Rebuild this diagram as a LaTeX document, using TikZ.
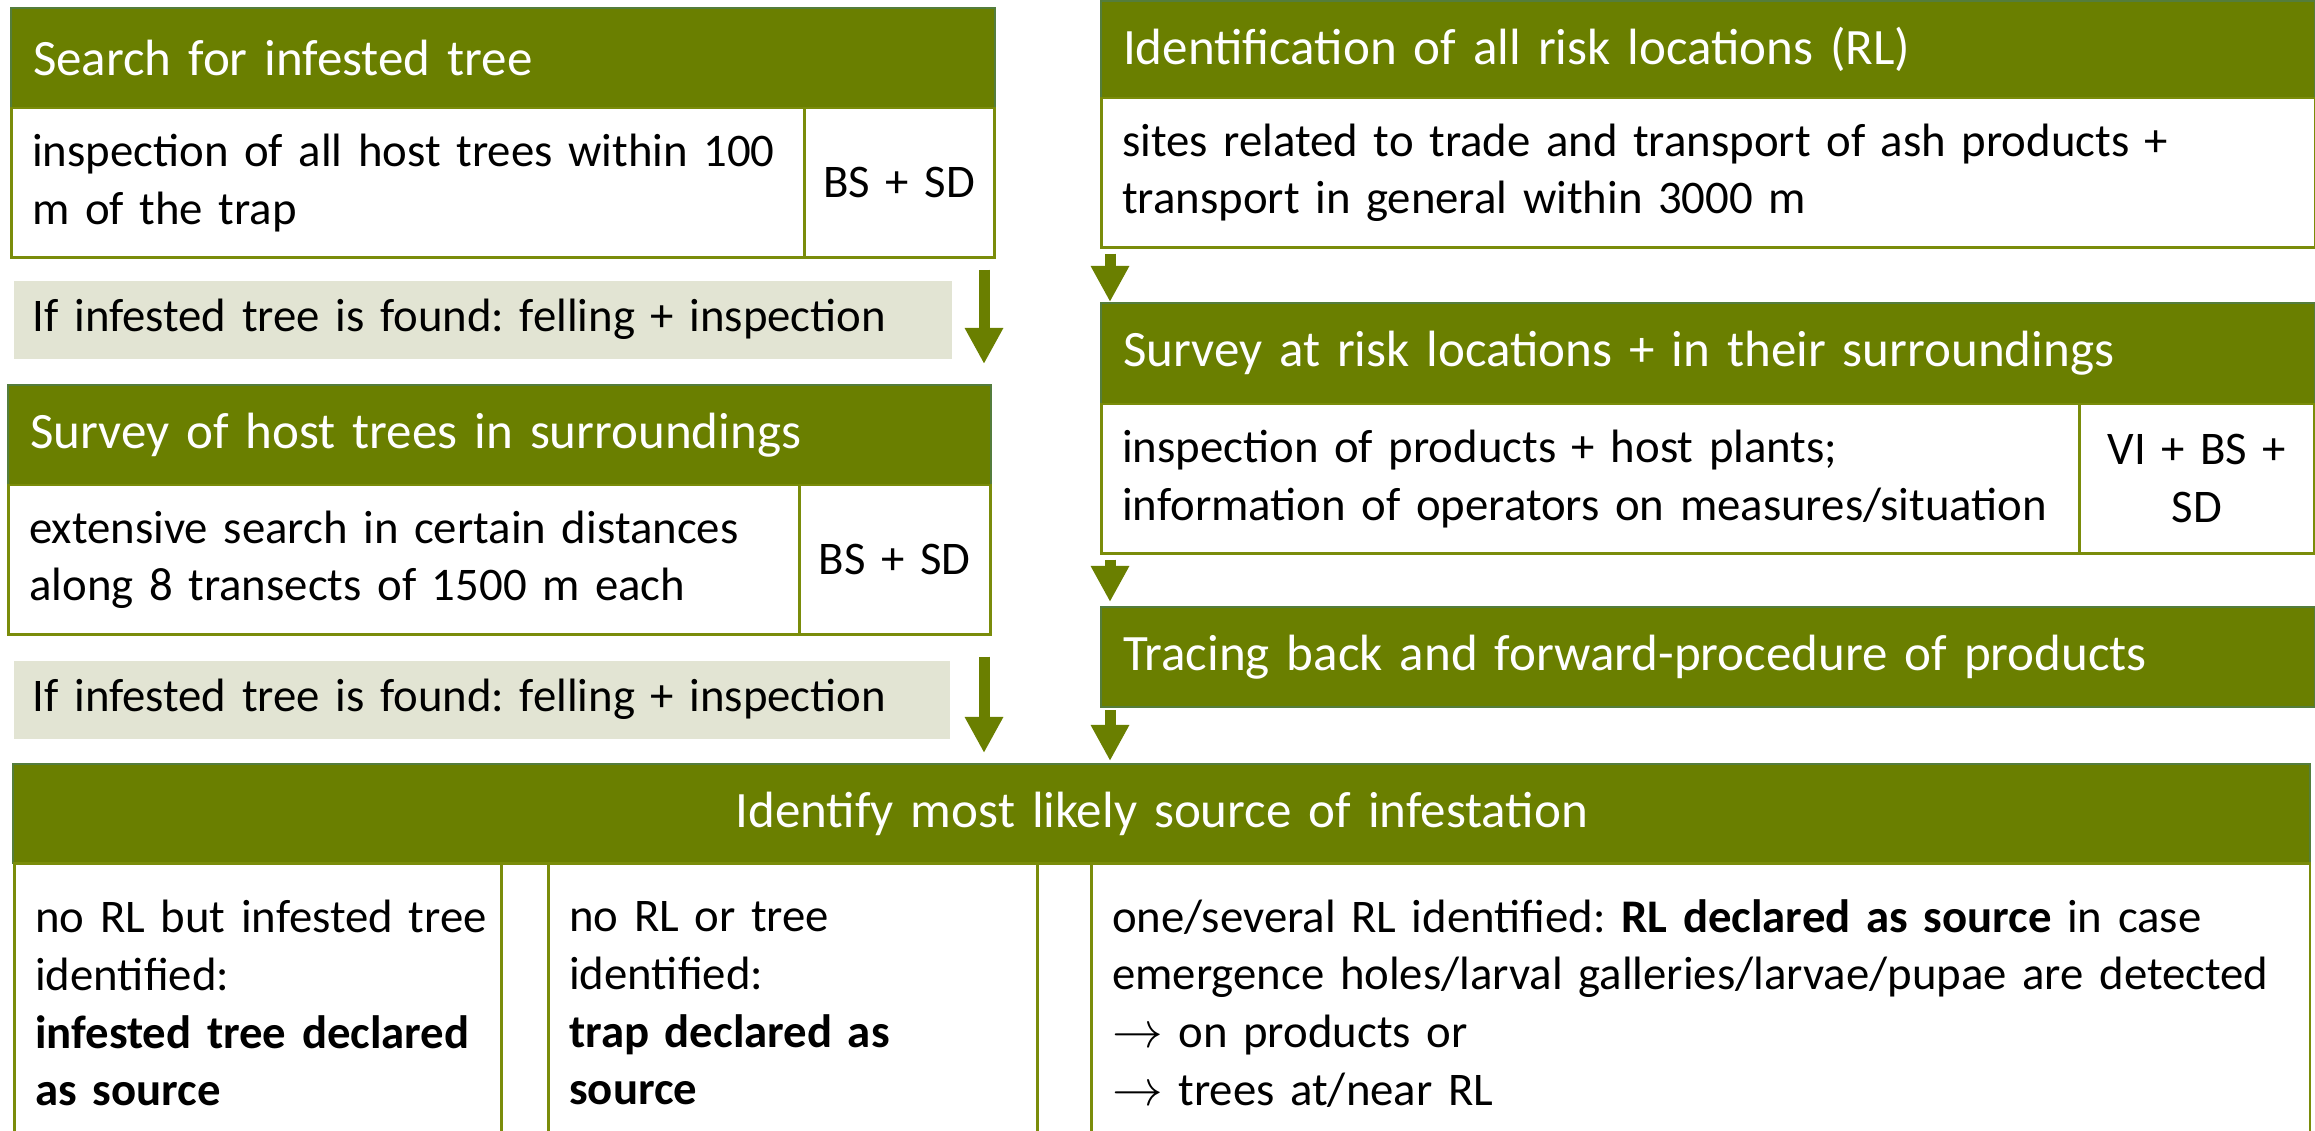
\documentclass[tikz,border=0pt]{standalone}
\usepackage{fontspec}
\setmainfont{Carlito}
\usetikzlibrary{arrows.meta}
\definecolor{leaf}{RGB}{106,127,0}
\definecolor{leafline}{RGB}{84,125,60}
\definecolor{cellline}{RGB}{122,140,10}
\definecolor{notefill}{RGB}{226,228,211}
\tikzset{
  head/.style={draw=leafline, line width=0.02cm, fill=leaf, text=white, anchor=north west,
    inner xsep=0.22cm, inner ysep=0pt, align=left, font=\fontsize{14.5}{17}\selectfont},
  cell/.style={draw=cellline, line width=0.025cm, fill=white, anchor=north west,
    inner xsep=0.21cm, inner ysep=0pt, align=left, font=\fontsize{13.3}{16.4}\selectfont},
  tag/.style={cell, inner xsep=0.05cm, align=center},
  note/.style={fill=notefill, anchor=north west, inner xsep=0.19cm, inner ysep=0pt,
    align=left, font=\fontsize{13.3}{16.4}\selectfont},
  flow/.style={draw=leaf, line width=0.11cm, -{Triangle[width=0.36cm,length=0.36cm]}},
}
\frenchspacing
\begin{document}
\frenchspacing
\begin{tikzpicture}[x=0.01cm,y=-0.01cm]
  \useasboundingbox (0,0) rectangle (2315,1131);
  \clip (0,0) rectangle (2315,1131);
  % left column
  \node[head, minimum width=9.83cm, minimum height=1cm, text width=9.39cm] (h1) at (10,7) {Search for infested tree};
  \node[cell, minimum width=7.93cm, minimum height=1.49cm, text width=7.51cm] (b1) at (10,107) {inspection of all host trees within 100\\m of the trap};
  \node[tag, minimum width=1.9cm, minimum height=1.49cm, text width=1.8cm] (c1) at (803,107) {BS + SD};
  \node[note, minimum width=9.38cm, minimum height=0.78cm, text width=9cm] (g1) at (13,280) {If infested tree is found: felling + inspection};
  \node[head, minimum width=9.82cm, minimum height=1cm, text width=9.38cm] (h2) at (7,384) {Survey of host trees in surroundings};
  \node[cell, minimum width=7.91cm, minimum height=1.49cm, text width=7.49cm] (b2) at (7,484) {extensive search in certain distances\\along 8 transects of 1500 m each};
  \node[tag, minimum width=1.91cm, minimum height=1.49cm, text width=1.81cm] (c2) at (798,484) {BS + SD};
  \node[note, minimum width=9.36cm, minimum height=0.78cm, text width=8.98cm] (g2) at (13,660) {If infested tree is found: felling + inspection};
  % right column
  \node[head, minimum width=12.13cm, minimum height=0.97cm, text width=11.69cm] (r1h) at (1100,0) {Identification of all risk locations (RL)};
  \node[cell, minimum width=12.13cm, minimum height=1.49cm, text width=11.71cm] (r1b) at (1100,97) {sites related to trade and transport of ash products +\\transport in general within 3000 m};
  \node[head, minimum width=12.13cm, minimum height=1.01cm, text width=11.69cm] (r2h) at (1100,302) {Survey at risk locations + in their surroundings};
  \node[cell, minimum width=9.78cm, minimum height=1.49cm, text width=9.36cm] (r2b) at (1100,403) {inspection of products + host plants;\\information of operators on measures/situation};
  \node[tag, minimum width=2.35cm, minimum height=1.49cm, text width=2.25cm] (r2c) at (2078,403) {VI + BS +\\SD};
  \node[head, minimum width=12.13cm, minimum height=1cm, text width=11.69cm] (r3) at (1100,606) {Tracing back and forward-procedure of products};
  % source of infestation
  \node[head, minimum width=22.96cm, minimum height=0.99cm, text width=22.52cm, align=center] (bh) at (12,763) {Identify most likely source of infestation};
  \node[cell, minimum width=4.87cm, minimum height=2.8cm, text width=4.45cm] (k1) at (13,862) {\mbox{no RL but infested tree}\\identified:\\\mbox{\textbf{infested tree declared}}\\\textbf{as source}};
  \node[cell, minimum width=0.47cm, minimum height=2.8cm] (s1) at (500,862) {};
  \node[cell, minimum width=4.89cm, minimum height=2.8cm, text width=4.47cm] (k2) at (547,862) {no RL or tree\\identified:\\\textbf{trap declared as}\\\textbf{source}};
  \node[cell, minimum width=0.54cm, minimum height=2.8cm] (s2) at (1036,862) {};
  \node[cell, minimum width=12.18cm, minimum height=2.8cm, text width=11.76cm] (k3) at (1090,862) {one/several RL identified: \textbf{RL declared as source} in case\\emergence holes/larval galleries/larvae/pupae are detected\\$\rightarrow$ on products or\\$\rightarrow$ trees at/near RL};
  % arrows
  \coordinate (lx) at (984,0);
  \coordinate (rx) at (1110,0);
  \draw[flow] ([yshift=-0.11cm]c1.south -| lx) -- ([yshift=0.2cm]h2.north -| lx);
  \draw[flow] ([yshift=-0.21cm]c2.south -| lx) -- ([yshift=0.1cm]bh.north -| lx);
  \draw[flow] ([yshift=-0.05cm]r1b.south -| rx) -- (r2h.north -| rx);
  \draw[flow] ([yshift=-0.05cm]r2b.south -| rx) -- ([yshift=0.04cm]r3.north -| rx);
  \draw[flow] ([yshift=-0.02cm]r3.south -| rx) -- ([yshift=0.02cm]bh.north -| rx);
\end{tikzpicture}
\end{document}
